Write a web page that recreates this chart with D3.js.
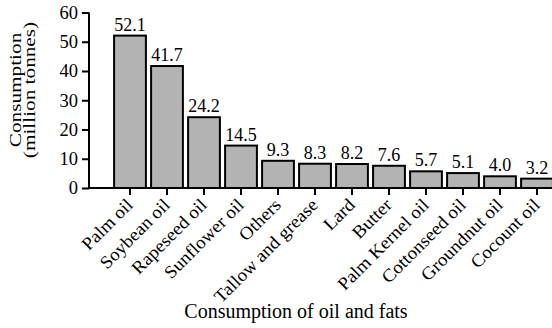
<!DOCTYPE html>
<html>
<head>
<meta charset="utf-8">
<script src="https://cdn.jsdelivr.net/npm/d3@7"></script>
<style>
  body { margin: 0; background: #fff; }
  svg text { font-family: "Liberation Serif", "Times New Roman", serif; fill: #000; }
</style>
</head>
<body>
<div id="chart"></div>
<script>
const categories = ['Palm oil', 'Soybean oil', 'Rapeseed oil', 'Sunflower oil', 'Others',
    'Tallow and grease', 'Lard', 'Butter', 'Palm Kernel oil', 'Cottonseed oil',
    'Groundnut oil', 'Cocount oil'];
const consumption = [52.1, 41.7, 24.2, 14.5, 9.3, 8.3, 8.2, 7.6, 5.7, 5.1, 4.0, 3.2];
const yTicks = [0, 10, 20, 30, 40, 50, 60];

const width = 552, height = 328;
const x0 = 89, y0 = 188;

const svg = d3.select('#chart').append('svg')
    .attr('width', width).attr('height', height);

const data = categories.map((c, i) => ({name: c, value: consumption[i]}));

const xScale = d3.scaleBand()
    .domain(categories)
    .range([111.5, 555.5])
    .paddingInner(0.14)
    .paddingOuter(0.07);
const yScale = d3.scaleLinear()
    .domain([0, 60])
    .range([y0, 12.5]);

// bars
svg.append('g').selectAll('rect').data(data).join('rect')
    .attr('x', d => xScale(d.name))
    .attr('y', d => yScale(d.value))
    .attr('width', xScale.bandwidth())
    .attr('height', d => y0 - yScale(d.value))
    .attr('fill', '#b3b3b3')
    .attr('stroke', '#000')
    .attr('stroke-width', 2);

// value labels
svg.append('g').selectAll('text').data(data).join('text')
    .attr('x', d => xScale(d.name) + xScale.bandwidth() / 2)
    .attr('y', d => yScale(d.value) - 5)
    .attr('text-anchor', 'middle')
    .style('font-size', '18px')
    .text(d => d.value.toFixed(1));

// y axis
const yAxis = d3.axisLeft(yScale).tickValues(yTicks).tickSize(7).tickPadding(4);
const gy = svg.append('g').attr('transform', `translate(${x0},0)`).call(yAxis);
gy.select('.domain').attr('d', `M0,${yScale(60)}V${y0}`).attr('stroke-width', 2);
gy.selectAll('.tick line').attr('stroke-width', 2);
gy.selectAll('.tick text').style('font-size', '18.5px');

// x axis
const xAxis = d3.axisBottom(xScale).tickSize(7).tickFormat('');
const gx = svg.append('g').attr('transform', `translate(0,${y0})`).call(xAxis);
gx.select('.domain').attr('d', `M${x0},0H${width}`).attr('stroke-width', 2);
gx.selectAll('.tick line').attr('stroke-width', 2);

// rotated category labels
svg.append('g').selectAll('text').data(categories).join('text')
    .attr('transform', d => `translate(${xScale(d) + xScale.bandwidth() / 2 + 4},${y0 + 18}) rotate(-45) scale(1.06,1)`)
    .attr('text-anchor', 'end')
    .style('font-size', '18px')
    .text(d => d);

// axis titles
svg.append('text')
    .attr('x', 296).attr('y', 318)
    .attr('text-anchor', 'middle')
    .style('font-size', '20px')
    .text('Consumption of oil and fats');

const yl = svg.append('text')
    .attr('transform', 'translate(21,90) rotate(-90) scale(1.25,1)')
    .attr('text-anchor', 'middle')
    .style('font-size', '17px');
yl.append('tspan').attr('x', 0).attr('y', 0).text('Consumption');
yl.append('tspan').attr('x', 0).attr('y', 14).text('(million tonnes)');
</script>
</body>
</html>
